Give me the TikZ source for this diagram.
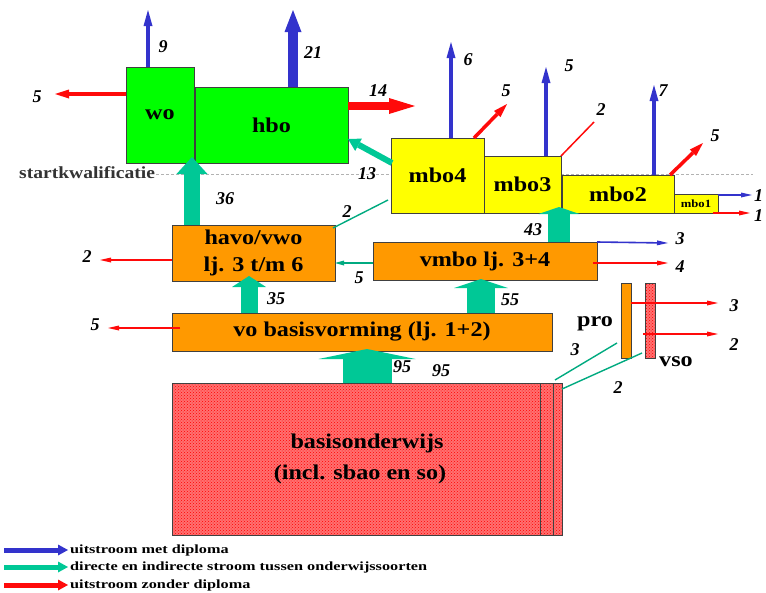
\documentclass[tikz,border=0pt]{standalone}
\usepackage{fontspec}
\setmainfont{Liberation Serif}
\newfontfamily\boxfont[FakeStretch=1.15]{Liberation Serif}
\newfontfamily\legfont[FakeStretch=1.3]{Liberation Serif}
\usetikzlibrary{arrows.meta,patterns,calc}
\definecolor{flowblue}{HTML}{3333CC}
\definecolor{flowred}{HTML}{FF0A0A}
\definecolor{flowteal}{HTML}{00C896}
\definecolor{hogreen}{HTML}{00FF00}
\definecolor{mboyellow}{HTML}{FFFF00}
\definecolor{voorange}{HTML}{FF9900}
\definecolor{basisred}{HTML}{FF7070}
\tikzset{
  box/.style={
    rectangle, draw=black!75, line width=0.8pt,
    anchor=north west, inner sep=0pt, outer sep=0pt,
    font=\boxfont\bfseries\fontsize{21}{27}\selectfont,
    align=center
  },
  hatched/.style={
    preaction={fill=basisred},
    pattern=crosshatch dots, pattern color=red
  },
  numlbl/.style={font=\bfseries\itshape\fontsize{18}{18}\selectfont, inner sep=1pt},
  boxlbl/.style={font=\boxfont\bfseries\fontsize{21}{21}\selectfont, inner sep=1pt},
  legtext/.style={anchor=west, inner sep=2pt, font=\legfont\bfseries\fontsize{12.5}{12.5}\selectfont},
  outblue/.style={draw=flowblue, line width=3.5pt, -{Triangle[length=16pt,width=9pt,line width=0pt]}},
  outred/.style={draw=flowred, line width=3.5pt, -{Triangle[length=14pt,width=9pt,line width=0pt]}},
  thinblue/.style={draw=flowblue, line width=1.6pt, -{Triangle[length=11pt,width=5pt,line width=0pt]}},
  thinred/.style={draw=flowred, line width=1.6pt, -{Triangle[length=11pt,width=5pt,line width=0pt]}},
  thinteal/.style={draw=flowteal!85!black, line width=1.4pt},
  tealarr/.style={draw=flowteal},
  legarr/.style={line width=5pt, -{Triangle[length=10pt,width=11pt,line width=0pt]}},
}

\begin{document}
\begin{tikzpicture}[x=1pt, y=-1pt]
  \fill[white] (0,0) rectangle (766,592);
  \useasboundingbox (0,0) rectangle (766,592);

  % startkwalificatie
  \node[anchor=west, inner sep=1pt, font=\boxfont\bfseries\fontsize{17}{17}\selectfont, text=black!80]
    (start) at (18,173) {startkwalificatie};
  \coordinate (startend) at (753,174);
  \draw[gray!60, line width=1pt, dash pattern=on 3pt off 2pt] (start.east |- startend) -- (startend);

  % hoger onderwijs
  \node[box, fill=hogreen, minimum width=68pt, minimum height=96pt] (wo) at (126,67) {wo};
  \node[box, fill=hogreen, minimum width=153pt, minimum height=76pt] (hbo) at (195,87) {hbo};

  % mbo
  \node[box, fill=mboyellow, minimum width=93pt, minimum height=75pt] (mbo4) at (391,138) {mbo4};
  \node[box, fill=mboyellow, minimum width=77pt, minimum height=57pt] (mbo3) at (484,156) {mbo3};
  \node[box, fill=mboyellow, minimum width=112pt, minimum height=38pt] (mbo2) at (562,175) {mbo2};
  \node[box, fill=mboyellow, minimum width=44pt, minimum height=19pt,
        font=\boxfont\bfseries\fontsize{11}{11}\selectfont] (mbo1) at (674,194) {mbo1};

  % voortgezet onderwijs
  \node[box, fill=voorange, minimum width=163pt, minimum height=56pt] (havo) at (172,225) {havo/vwo\\lj. 3 t/m 6};
  \node[box, fill=voorange, minimum width=224pt, minimum height=38pt] (vmbo) at (373,242) {vmbo lj. 3+4};
  \node[box, fill=voorange, minimum width=380pt, minimum height=38pt] (vo) at (172,313) {vo basisvorming (lj. 1+2)};
  \node[box, fill=voorange, minimum width=10pt, minimum height=75pt] (pro) at (621,283) {};
  \node[box, hatched, minimum width=10pt, minimum height=75pt] (vso) at (645,283) {};

  % basisonderwijs
  \node[box, hatched, minimum width=390pt, minimum height=152pt,
        font=\boxfont\bfseries\fontsize{21}{31}\selectfont] (basis) at (172,383)
    {basisonderwijs\\(incl. sbao en so)\hspace*{14pt}};
  \foreach \dx in {368,381}
    \draw[black!75, line width=0.8pt] ($(basis.north west)+(\dx,0)$) -- ($(basis.south west)+(\dx,0)$);

  % uitstroom hoger onderwijs
  \coordinate (wo-out) at (148,10);
  \draw[outblue] (wo.north -| wo-out) -- (wo-out);
  \coordinate (hbo-out) at (293,10);
  \draw[flowblue, line width=10pt, -{Triangle[length=22pt,width=17pt,line width=0pt]}]
    (hbo.north -| hbo-out) -- (hbo-out);
  \coordinate (wo-drop) at (55,94);
  \draw[outred] (wo.west |- wo-drop) -- (wo-drop);
  \coordinate (hbo-drop) at (415,106);
  \draw[flowred, line width=8pt, -{Triangle[length=26pt,width=16pt,line width=0pt]}]
    (hbo.east |- hbo-drop) -- (hbo-drop);

  % uitstroom mbo
  \coordinate (mbo4-out) at (451,42);
  \draw[outblue] (mbo4.north -| mbo4-out) -- (mbo4-out);
  \coordinate (mbo4-drop) at (507,104);
  \draw[outred] ($(mbo4.north east)+(-10,0)$) -- (mbo4-drop);
  \coordinate (mbo3-out) at (546,67);
  \draw[outblue] (mbo3.north -| mbo3-out) -- (mbo3-out);
  \coordinate (mbo3-drop) at (594,122);
  \draw[flowred, line width=1.5pt] (mbo3.north east) -- (mbo3-drop);
  \coordinate (mbo2-out) at (654,85);
  \draw[outblue] (mbo2.north -| mbo2-out) -- (mbo2-out);
  \coordinate (mbo2-drop) at (703,143);
  \draw[outred] ($(mbo2.north east)+(-4,0)$) -- (mbo2-drop);
  \coordinate (mbo1-out) at (752,195);
  \draw[thinblue] (mbo1.north east |- mbo1-out) -- (mbo1-out);
  \coordinate (mbo1-drop) at (750,213);
  \draw[thinred] ($(mbo1.south east)+(-5,0)$) -- (mbo1-drop);

  % doorstroom
  \draw[tealarr, line width=6pt, -{Triangle[length=12pt,width=14pt,line width=0pt]}]
    ($(mbo4.north west)+(1,25)$) -- ($(hbo.north east)+(0,52)$);
  \draw[tealarr, line width=16pt, -{Triangle[length=17pt,width=31pt,line width=0pt]}]
    ($(havo.north west)+(20,0)$) -- ($(wo.south east)+(-2,-6)$);
  \draw[thinteal] ($(havo.north east)+(-2,3)$) -- ($(mbo4.south west)+(-3,-13)$);
  \draw[tealarr, line width=22pt, -{Triangle[length=7pt,width=41pt,line width=0pt]}]
    ($(vmbo.north west)+(186,0)$) -- ($(mbo3.south east)+(-2,-6)$);
  \draw[flowteal!85!black, line width=1.6pt, -{Triangle[length=9pt,width=5pt,line width=0pt]}]
    ($(vmbo.south west)+(0,-17)$) -- ($(havo.south east)+(0,-18)$);
  \draw[tealarr, line width=17pt, -{Triangle[length=11pt,width=34pt,line width=0pt]}]
    ($(vo.north west)+(77,0)$) -- ($(havo.south west)+(77,-5)$);
  \draw[tealarr, line width=28pt, -{Triangle[length=9pt,width=54pt,line width=0pt]}]
    ($(vo.north west)+(309,0)$) -- ($(vmbo.south west)+(108,-1)$);
  \draw[tealarr, line width=49pt, -{Triangle[length=10pt,width=97pt,line width=0pt]}]
    ($(basis.north west)+(195,0)$) -- ($(vo.south west)+(195,-2)$);
  \draw[thinteal] ($(basis.north east)+(-7,-3)$) -- ($(pro.south west)+(-4,-15)$);
  \draw[thinteal] ($(basis.north east)+(0,6)$) -- ($(vso.south west)+(-3,-5)$);

  % uitstroom vo
  \coordinate (vmbo-out) at (668,243);
  \draw[thinblue] (vmbo.north east) -- (vmbo-out);
  \coordinate (vmbo-drop) at (668,263);
  \draw[thinred] ($(vmbo.south east)+(-4,-17)$) -- (vmbo-drop);
  \coordinate (havo-drop) at (100,260);
  \draw[thinred] ($(havo.west)+(0,7)$) -- (havo-drop);
  \coordinate (vo-drop) at (108,328);
  \draw[thinred] ($(vo.west)+(8,-4)$) -- (vo-drop);
  \coordinate (pro-drop) at (718,303);
  \draw[thinred] (pro.east |- pro-drop) -- (pro-drop);
  \coordinate (vso-drop) at (718,334);
  \draw[thinred] ($(vso.west |- vso-drop)+(-2,0)$) -- (vso-drop);

  % aantallen
  \node[numlbl] (n9) at (163,47) {9};
  \node[numlbl] (n21) at (313,53) {21};
  \node[numlbl] (n5wo) at (37,97) {5};
  \node[numlbl] (n14) at (378,91) {14};
  \node[numlbl] (n36) at (225,199) {36};
  \node[numlbl] (n13) at (367,174) {13};
  \node[numlbl] (n2havo) at (347,212) {2};
  \node[numlbl] (n6) at (468,60) {6};
  \node[numlbl] (n5mbo4) at (506,91) {5};
  \node[numlbl] (n5mbo3) at (569,66) {5};
  \node[numlbl] (n2mbo3) at (601,110) {2};
  \node[numlbl] (n7) at (663,91) {7};
  \node[numlbl] (n5mbo2) at (715,136) {5};
  \node[numlbl, anchor=west] (n1a) at (753,196) {1};
  \node[numlbl, anchor=west] (n1b) at (753,216) {1};
  \node[numlbl] (n43) at (533,230) {43};
  \node[numlbl] (n3vmbo) at (680,239) {3};
  \node[numlbl] (n4vmbo) at (680,267) {4};
  \node[numlbl] (n5vmbo) at (359,278) {5};
  \node[numlbl] (n2vwo) at (87,257) {2};
  \node[numlbl] (n35) at (276,299) {35};
  \node[numlbl] (n5vo) at (95,325) {5};
  \node[numlbl] (n55) at (510,300) {55};
  \node[numlbl] (n95a) at (402,367) {95};
  \node[numlbl] (n95b) at (441,371) {95};
  \node[numlbl] (n3pro) at (734,306) {3};
  \node[numlbl] (n2vso) at (734,345) {2};
  \node[numlbl] (n3bo) at (575,350) {3};
  \node[numlbl] (n2bo) at (618,388) {2};
  \node[boxlbl] (lpro) at (595,324) {pro};
  \node[boxlbl] (lvso) at (676,362) {vso};

  % legenda
  \node[legtext] (leg1) at (68,550) {uitstroom met diploma};
  \node[legtext] (leg2) at (68,567) {directe en indirecte stroom tussen onderwijssoorten};
  \node[legtext] (leg3) at (68,585) {uitstroom zonder diploma};
  \coordinate (leg1-start) at (4,550);
  \coordinate (leg2-start) at (4,567);
  \coordinate (leg3-start) at (4,585);
  \draw[legarr, flowblue] (leg1-start) -- (leg1.west);
  \draw[legarr, flowteal] (leg2-start) -- (leg2.west);
  \draw[legarr, flowred] (leg3-start) -- (leg3.west);
\end{tikzpicture}
\end{document}
